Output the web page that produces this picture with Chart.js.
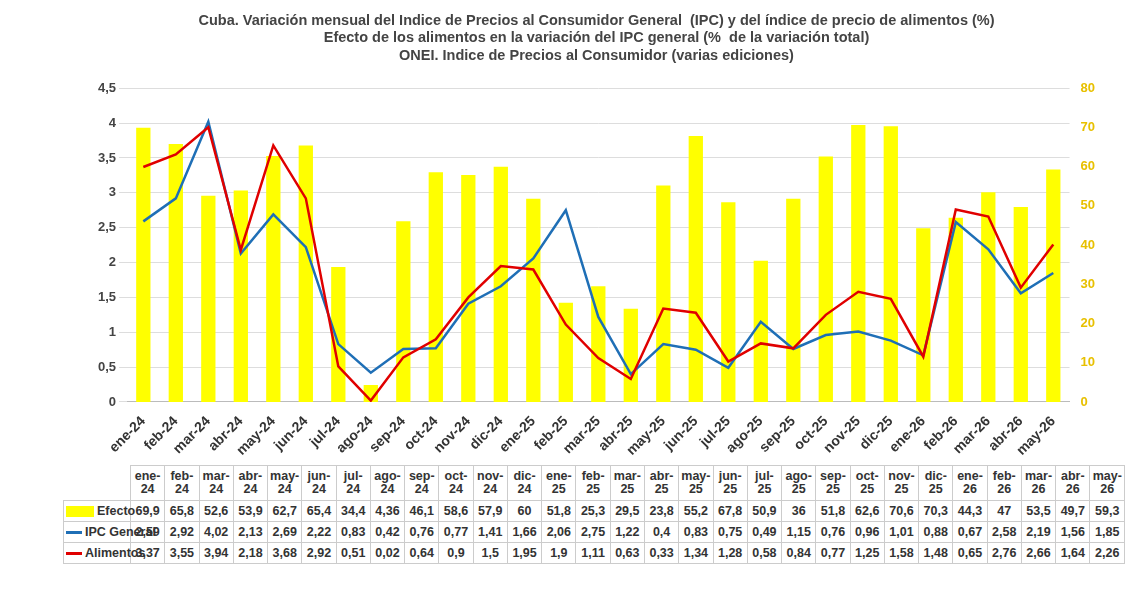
<!DOCTYPE html>
<html><head><meta charset="utf-8">
<script src="https://cdn.jsdelivr.net/npm/chart.js@4"></script>
<style>
body{margin:0;background:#fff;font-family:"Liberation Sans",Arial,sans-serif;}
#wrap{position:absolute;left:0;top:0;width:1138px;height:462px;}
table{position:absolute;left:63px;top:465px;border-collapse:collapse;table-layout:fixed;width:1062px;font-size:12.5px;font-weight:bold;color:#333;}
td{border:1px solid #ccc;text-align:center;padding:0;height:20px;line-height:13px;overflow:visible;}
td.h{height:34px;}
td.lab{text-align:left;white-space:nowrap;padding-left:2px;}
.sw{display:inline-block;vertical-align:middle;margin-right:3px;}
</style></head><body>
<div id="wrap"><canvas id="c"></canvas></div>
<table id="t"></table>
<script>
const labels = ['ene-24','feb-24','mar-24','abr-24','may-24','jun-24','jul-24','ago-24','sep-24','oct-24','nov-24','dic-24','ene-25','feb-25','mar-25','abr-25','may-25','jun-25','jul-25','ago-25','sep-25','oct-25','nov-25','dic-25','ene-26','feb-26','mar-26','abr-26','may-26'];
const efecto = [69.9,65.8,52.6,53.9,62.7,65.4,34.4,4.36,46.1,58.6,57.9,60,51.8,25.3,29.5,23.8,55.2,67.8,50.9,36,51.8,62.6,70.6,70.3,44.3,47,53.5,49.7,59.3];
const ipc = [2.59,2.92,4.02,2.13,2.69,2.22,0.83,0.42,0.76,0.77,1.41,1.66,2.06,2.75,1.22,0.4,0.83,0.75,0.49,1.15,0.76,0.96,1.01,0.88,0.67,2.58,2.19,1.56,1.85];
const alimentos = [3.37,3.55,3.94,2.18,3.68,2.92,0.51,0.02,0.64,0.9,1.5,1.95,1.9,1.11,0.63,0.33,1.34,1.28,0.58,0.84,0.77,1.25,1.58,1.48,0.65,2.76,2.66,1.64,2.26];
const titles = ['Cuba. Variación mensual del Indice de Precios al Consumidor General  (IPC) y del índice de precio de alimentos (%)','Efecto de los alimentos en la variación del IPC general (%  de la variación total)','ONEI. Indice de Precios al Consumidor (varias ediciones)'];

const fmt = v => String(v).replace('.', ',');
const font = {family:'"Liberation Sans",Arial,sans-serif', weight:'bold', size:13};

new Chart(document.getElementById('c'), {
  data: {
    labels: labels,
    datasets: [
      {type:'line', label:'IPC General', data:ipc, borderColor:'#1f6fb6', borderWidth:2.5, pointRadius:0, tension:0, yAxisID:'y', order:1},
      {type:'line', label:'Alimentos', data:alimentos, borderColor:'#e00000', borderWidth:2.5, pointRadius:0, tension:0, yAxisID:'y', order:0},
      {type:'bar', label:'Efecto', data:efecto, backgroundColor:'#ffff00', yAxisID:'y1', barPercentage:0.8, categoryPercentage:0.55, order:2}
    ]
  },
  options: {
    responsive:true, maintainAspectRatio:false, animation:false,
    layout:{padding:{left:95,right:40,top:0,bottom:0}},
    plugins:{
      legend:{display:false},
      title:{display:true, text:titles, color:'#444', font:{...font, size:14.5}, padding:{top:12,bottom:24}, lineHeight:1.35}
    },
    scales:{
      x:{grid:{display:false}, border:{color:'#bbb'}, ticks:{color:'#333', font:{...font, size:14}, maxRotation:45, minRotation:45}},
      y:{min:0, max:4.5, ticks:{stepSize:0.5, color:'#444', font:{...font, size:13}, callback:v=>fmt(v)}, grid:{color:'#ddd'}, border:{display:false}},
      y1:{position:'right', min:0, max:80, ticks:{stepSize:10, color:'#e8c000', font:{...font, size:13}}, grid:{display:false}, border:{display:false}}
    }
  }
});

const t = document.getElementById('t');
let html = '<colgroup><col style="width:67px">' + labels.map(() => '<col>').join('') + '</colgroup>';
html += '<tr><td class="lab h" style="border:none"></td>' + labels.map(l => '<td class="h">' + l.replace('-', '-<br>') + '</td>').join('') + '</tr>';
const rows = [
  ['Efecto', efecto, '<span class="sw" style="width:28px;height:11px;background:#ffff00"></span>'],
  ['IPC General', ipc, '<span class="sw" style="width:16px;height:3px;background:#1f6fb6"></span>'],
  ['Alimentos', alimentos, '<span class="sw" style="width:16px;height:3px;background:#e00000"></span>']
];
rows.forEach(r => {
  html += '<tr><td class="lab">' + r[2] + r[0] + '</td>' + r[1].map(v => '<td>' + fmt(v) + '</td>').join('') + '</tr>';
});
t.innerHTML = html;
</script>
</body></html>
